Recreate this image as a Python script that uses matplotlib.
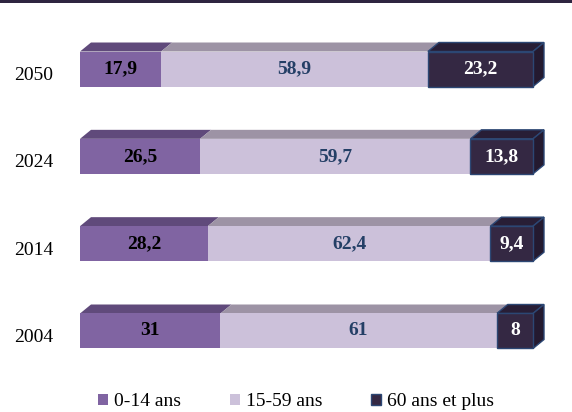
import matplotlib
matplotlib.use("Agg")
from matplotlib import pyplot as plt
from matplotlib.patches import Polygon, Patch

plt.rcParams['font.family'] = ['Liberation Serif', 'DejaVu Serif']

# donnees (en %)
years = ["2004", "2014", "2024", "2050"]
age_0_14 = [31, 28.2, 26.5, 17.9]
age_15_59 = [61, 62.4, 59.7, 58.9]
age_60_plus = [8, 9.4, 13.8, 23.2]
labels_0_14 = ["31", "28,2", "26,5", "17,9"]
labels_15_59 = ["61", "62,4", "59,7", "58,9"]
labels_60_plus = ["8", "9,4", "13,8", "23,2"]
legend_names = ["0-14 ans", "15-59 ans", "60 ans et plus"]

# couleurs: face, dessus, texte
front = ["#8064a2", "#ccc1da", "#342843"]
top = ["#604a7b", "#9d93a5", "#281e36"]
side = "#241a30"
edge = "#2c4774"
txt_col = ["black", "#243f66", "white"]

W, H = 572, 412
fig = plt.figure(figsize=(W / 100, H / 100), dpi=100)

# trait en haut
fig.add_artist(plt.Rectangle((0, 1 - 3 / H), 1, 3 / H, transform=fig.transFigure,
                             color="#2e2540", lw=0))

# axes: face avant des barres de x=80 a x=533 px
unit = 87.33
ax = fig.add_axes([80 / W, 42 / H, 453 / W, 350 / H])
ax.set_xlim(0, 100)
ax.set_ylim(-(370 - 331) / unit, 3 + (69 - 20) / unit)
ax.axis("off")

bh = 35 / unit
dx = 11 / 453 * 100
dy = 9 / unit

series = [age_0_14, age_15_59, age_60_plus]
series_lbl = [labels_0_14, labels_15_59, labels_60_plus]
ypos = list(range(len(years)))

lefts = [0.0] * len(years)
for k, vals in enumerate(series):
    is_last = k == len(series) - 1
    ax.barh(ypos, vals, left=lefts, height=bh, color=front[k],
            edgecolor=edge if is_last else "none", linewidth=1.0 if is_last else 0,
            zorder=3, clip_on=False)
    for i, v in enumerate(vals):
        l = lefts[i]
        yt = ypos[i] + bh / 2
        ax.add_patch(Polygon([(l, yt), (l + dx, yt + dy), (l + v + dx, yt + dy), (l + v, yt)],
                             closed=True, facecolor=top[k],
                             edgecolor=edge if is_last else "none",
                             linewidth=1.0 if is_last else 0, zorder=2, clip_on=False))
        if is_last:
            r = l + v
            yb = ypos[i] - bh / 2
            ax.add_patch(Polygon([(r, yb), (r + dx, yb + dy), (r + dx, yt + dy), (r, yt)],
                                 closed=True, facecolor=side, edgecolor=edge,
                                 linewidth=1.0, zorder=2, clip_on=False))
        ax.text(l + v / 2, ypos[i], series_lbl[k][i], ha="center", va="center",
                fontsize=14, fontweight="bold", color=txt_col[k], zorder=4)
    lefts = [a + b for a, b in zip(lefts, vals)]

# annees
for i, y in enumerate(years):
    ax.text(-27 / 453 * 100, ypos[i] - 6.5 / unit, y, ha="right", va="center",
            fontsize=14, color="black")

handles = [Patch(facecolor=front[k], edgecolor=edge if k == 2 else "none",
                 linewidth=1 if k == 2 else 0) for k in range(3)]
fig.legend(handles, legend_names, loc="center", bbox_to_anchor=(296 / W, 1 - 402 / H),
           ncol=3, frameon=False, fontsize=14, handlelength=0.52, handleheight=0.52,
           handletextpad=0.31, columnspacing=2.5, borderpad=0, borderaxespad=0)

fig.savefig("out.png", dpi=100)
